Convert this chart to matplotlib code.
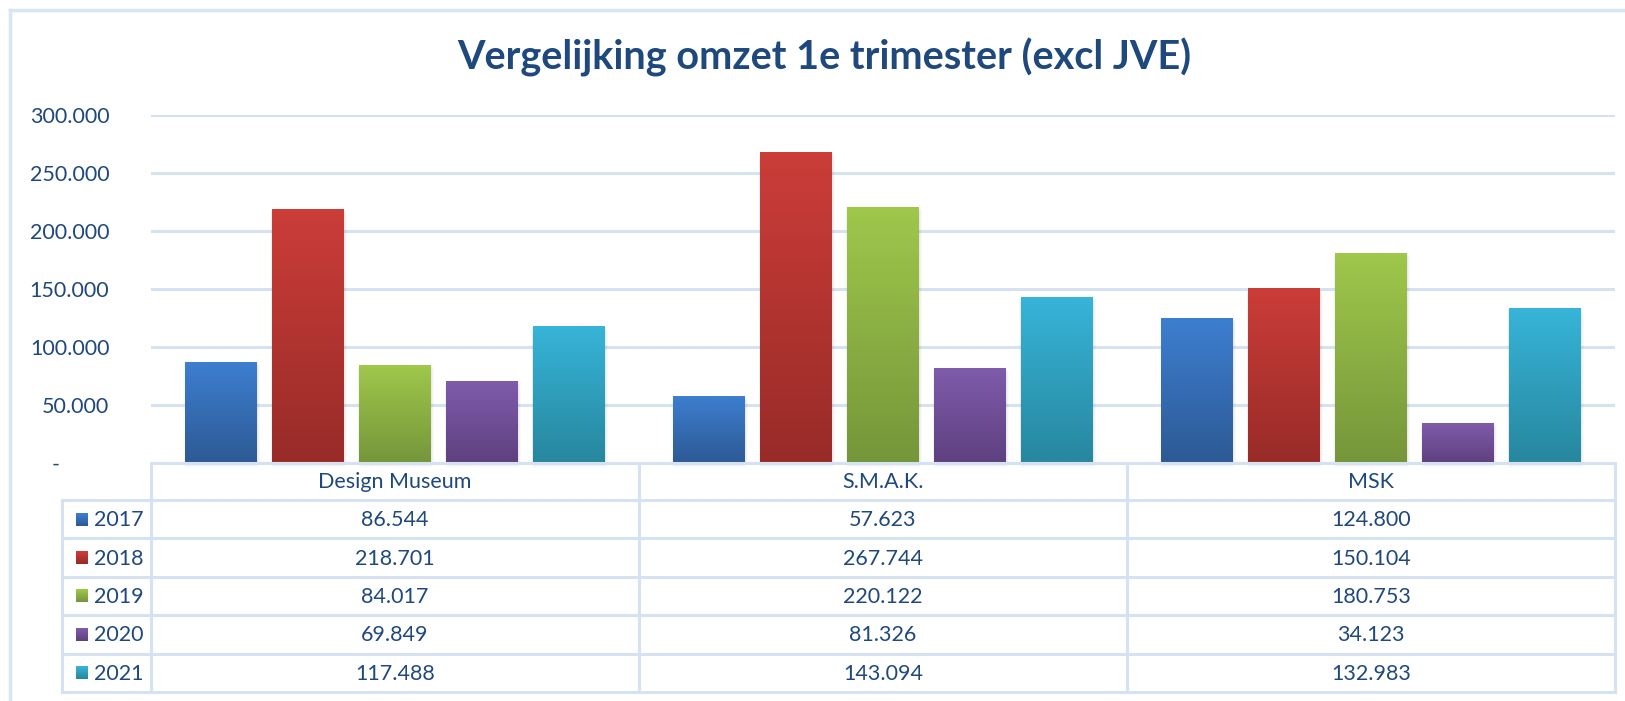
import matplotlib
matplotlib.use("Agg")
import matplotlib.pyplot as plt
import numpy as np
from matplotlib.patches import Rectangle
from matplotlib.ticker import FuncFormatter

plt.rcParams['font.family'] = ['Lato', 'DejaVu Sans']

# data
title = "Vergelijking omzet 1e trimester (excl JVE)"
museums = ["Design Museum", "S.M.A.K.", "MSK"]
years = ["2017", "2018", "2019", "2020", "2021"]
omzet_2017 = [86544, 57623, 124800]
omzet_2018 = [218701, 267744, 150104]
omzet_2019 = [84017, 220122, 180753]
omzet_2020 = [69849, 81326, 34123]
omzet_2021 = [117488, 143094, 132983]
series = [omzet_2017, omzet_2018, omzet_2019, omzet_2020, omzet_2021]

# gradient colours (top, bottom) per year
grad_colors = [
    ("#3d7ecf", "#2d5a95"),
    ("#cb3d39", "#982b28"),
    ("#9fc74b", "#76963a"),
    ("#7f5bab", "#5e417f"),
    ("#37b4d8", "#27879e"),
]
text_col = "#1f497d"
grid_col = "#d6e2f1"

W, H = 1625, 701
fig = plt.figure(figsize=(W / 100, H / 100), dpi=100)

# plot area in pixel coords
px_left, px_right, px_top, px_base = 151, 1615, 115, 463
ax = fig.add_axes([px_left / W, 1 - px_base / H, (px_right - px_left) / W, (px_base - px_top) / H])

n = len(years)
pitch = 0.178
bw = 0.1475
x = np.arange(len(museums))


def fmt(v, pos=None):
    if v == 0:
        return "-         "
    return f"{int(v):,}".replace(",", ".")


for i, vals in enumerate(series):
    offs = (i - (n - 1) / 2) * pitch
    bars = ax.bar(x + offs, vals, bw, color="none", zorder=3)
    top, bot = grad_colors[i]
    c1 = np.array(matplotlib.colors.to_rgb(top))
    c2 = np.array(matplotlib.colors.to_rgb(bot))
    grad = np.linspace(0, 1, 64)[:, None, None] * (c2 - c1) + c1
    for b in bars:
        x0, h = b.get_x(), b.get_height()
        # soft shadow on the sides
        for k, a in enumerate([0.035, 0.03, 0.02]):
            dx = 0.0018 * (k + 1)
            ax.add_patch(Rectangle((x0 - dx * 0.4, 0), bw + dx * 1.5, h - 1500 * k,
                                   color="black", alpha=a, lw=0, zorder=2))
        ax.imshow(grad, extent=(x0, x0 + bw, 0, h), aspect="auto", origin="upper", zorder=4)

ax.set_xlim(-0.5, 2.5)
ax.set_ylim(0, 300000)
ax.set_yticks(np.arange(0, 300001, 50000))
ax.yaxis.set_major_formatter(FuncFormatter(fmt))
ax.tick_params(axis="y", length=0, pad=30, labelsize=15.5, labelcolor=text_col)
ax.set_xticks([])
ax.grid(axis="y", color=grid_col, lw=2.2, zorder=0)
for s in ax.spines.values():
    s.set_visible(False)

fig.text(824 / W, 1 - 57 / H, title, ha="center", va="center", fontsize=28.5,
         fontweight="bold", color=text_col)

# overlay for table + frame, pixel coords
ov2 = fig.add_axes([0, 0, 1, 1])
ov2.set_xlim(0, W)
ov2.set_ylim(H, 0)
ov2.axis("off")

# outer frame (cut off at right and bottom)
ov2.plot([10, W], [10, 10], color="#dae5f3", lw=2.5)
ov2.plot([10, 10], [10, H], color="#dae5f3", lw=2.5)

leg_left = 62
row_h = 38.4
header_bot = 500
col_edges = np.linspace(px_left, px_right, len(museums) + 1)
rows_y = [header_bot + row_h * k for k in range(n + 1)]
tbl_bot = rows_y[-1]

# shadow of bars spills onto the table top
for i, vals in enumerate(series):
    offs = (i - (n - 1) / 2) * pitch
    for j in range(len(museums)):
        xc = px_left + (x[j] + offs + 0.5) / 3 * (px_right - px_left)
        half = bw / 3 * (px_right - px_left) / 2
        for k, a in enumerate([0.06, 0.035, 0.015]):
            ov2.add_patch(Rectangle((xc - half, px_base), 2 * half + 1, 1.5 + 1.5 * k,
                                    color="black", alpha=a, lw=0))

lw_t = 2.2
ov2.plot([px_left, px_right], [px_base, px_base], color=grid_col, lw=lw_t)
for y in rows_y:
    ov2.plot([leg_left, px_right], [y, y], color=grid_col, lw=lw_t)
ov2.plot([leg_left, leg_left], [header_bot, tbl_bot], color=grid_col, lw=lw_t)
for xe in col_edges:
    ov2.plot([xe, xe], [px_base, tbl_bot], color=grid_col, lw=lw_t)

fs = 15.5
for j, m in enumerate(museums):
    cx = (col_edges[j] + col_edges[j + 1]) / 2
    ov2.text(cx, (px_base + header_bot) / 2 + 1, m, ha="center", va="center",
             fontsize=fs, color=text_col)
    for i, vals in enumerate(series):
        cy = (rows_y[i] + rows_y[i + 1]) / 2 + 1
        ov2.text(cx, cy, fmt(vals[j]), ha="center", va="center", fontsize=fs, color=text_col)

for i, yr in enumerate(years):
    cy = (rows_y[i] + rows_y[i + 1]) / 2
    top, bot = grad_colors[i]
    c1 = np.array(matplotlib.colors.to_rgb(top))
    c2 = np.array(matplotlib.colors.to_rgb(bot))
    grad = np.linspace(0, 1, 16)[:, None, None] * (c2 - c1) + c1
    ov2.imshow(grad, extent=(76, 88, cy + 6.5, cy - 6.5), aspect="auto", origin="upper")
    ov2.text(94, cy + 1, yr, ha="left", va="center", fontsize=fs, color=text_col)

ov2.set_xlim(0, W)
ov2.set_ylim(H, 0)

fig.savefig("out.png", dpi=100, facecolor="white")
